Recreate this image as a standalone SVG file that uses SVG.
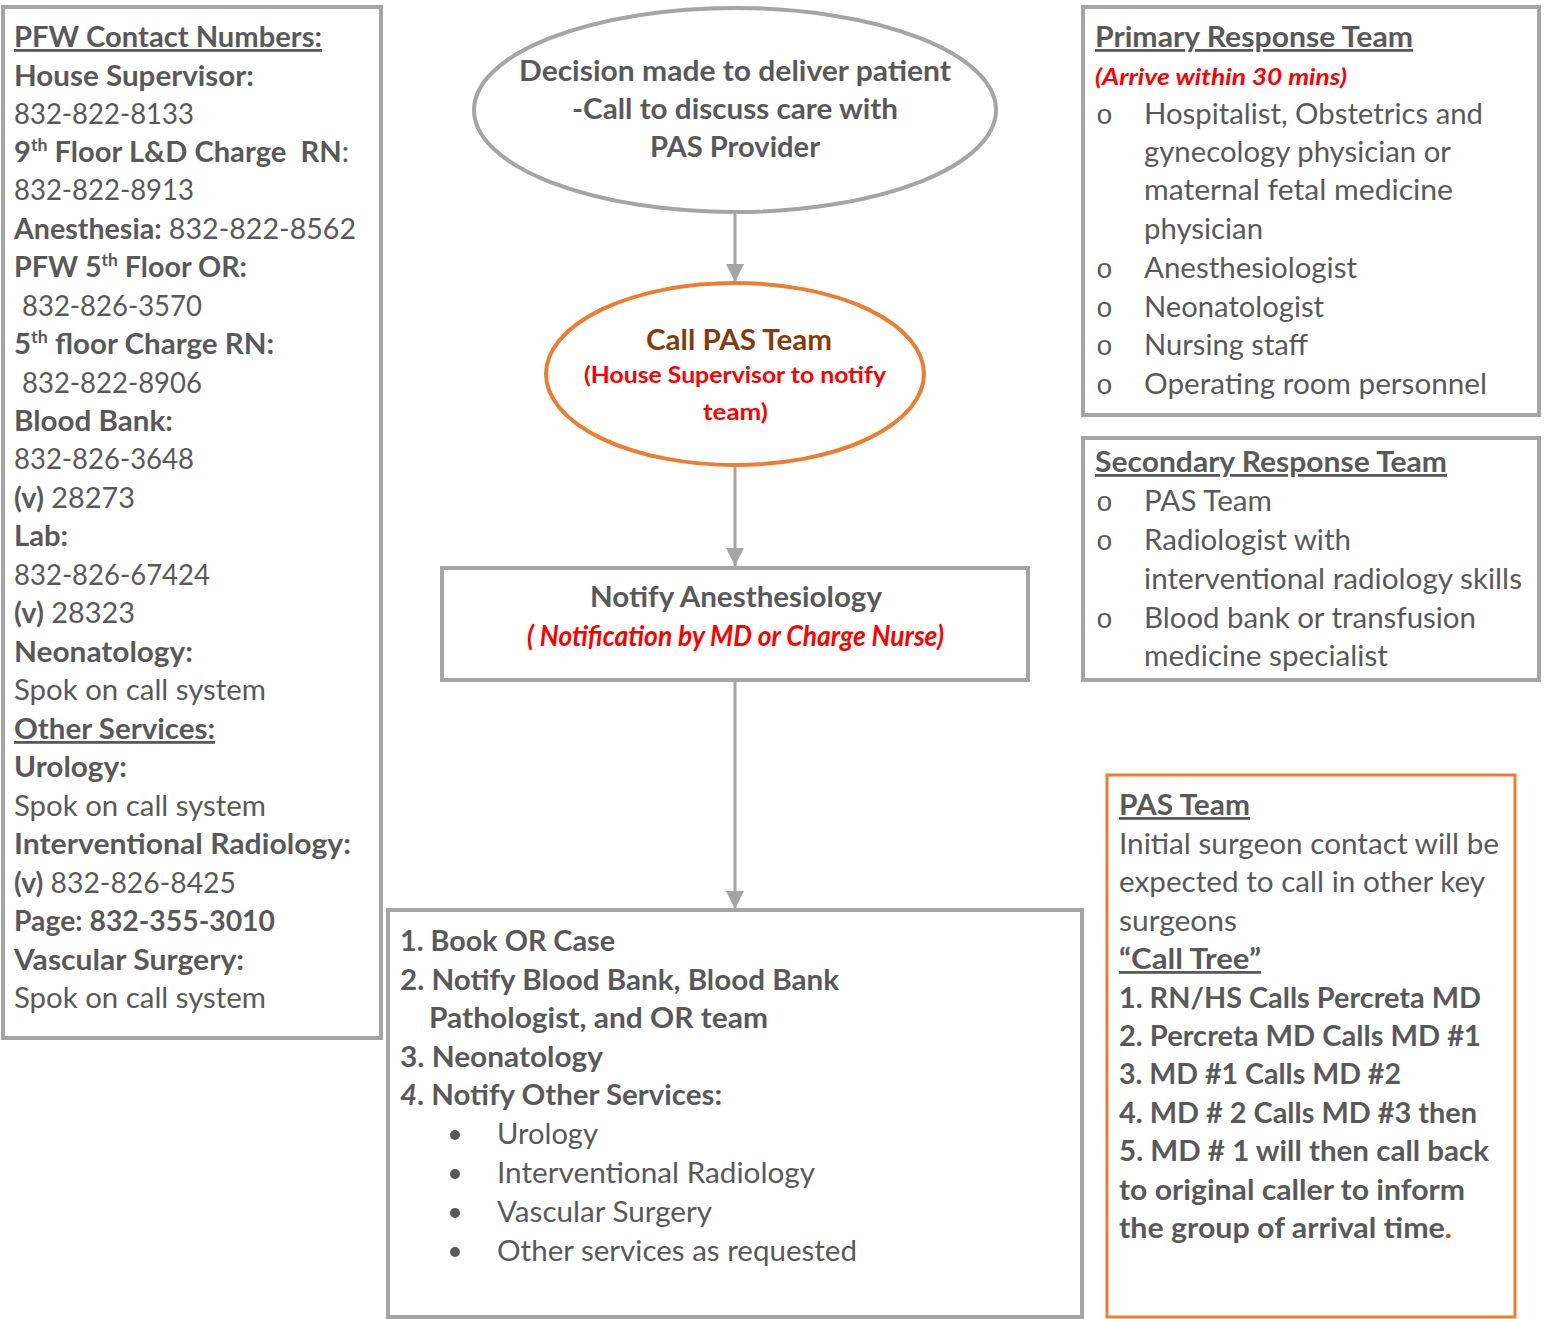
<svg xmlns="http://www.w3.org/2000/svg" width="1546" height="1319" viewBox="0 0 1546 1319">
<style>
text{font-family:Lato,"Liberation Sans",sans-serif;font-size:28px;fill:#595959}
.b{font-weight:bold}
.u{text-decoration:underline}
.red{fill:#ff0000}
.sm{font-size:23px}
.box{fill:#fff;stroke:#a5a5a5;stroke-width:4}
.obox{fill:#fff;stroke:#ed7d31;stroke-width:3}
.conn{stroke:#a5a5a5;stroke-width:3;fill:none}
.o{font-family:"Liberation Mono",monospace;font-size:28px}
.dot{fill:#595959}
</style>
<defs>
<marker id="arr" markerUnits="userSpaceOnUse" markerWidth="20" markerHeight="20" refX="18" refY="9" orient="auto">
<path d="M0,0 L18,9 L0,18 z" fill="#a5a5a5"/>
</marker>
</defs>
<rect width="1546" height="1319" fill="#fff"/>

<g id="connectors">
<line class="conn" x1="735" y1="212" x2="735" y2="282" marker-end="url(#arr)"/>
<line class="conn" x1="735" y1="466" x2="735" y2="566" marker-end="url(#arr)"/>
<line class="conn" x1="735" y1="681" x2="735" y2="909" marker-end="url(#arr)"/>
</g>

<g id="contacts">
<rect class="box" x="3" y="7" width="378" height="1031"/>
<text class="b u" x="14" y="47" textLength="308" lengthAdjust="spacingAndGlyphs">PFW Contact Numbers:</text>
<text class="b" x="14" y="86" textLength="240" lengthAdjust="spacingAndGlyphs">House Supervisor:</text>
<text x="14" y="124" textLength="180" lengthAdjust="spacingAndGlyphs">832-822-8133</text>
<text x="14" y="162" textLength="335" lengthAdjust="spacingAndGlyphs" xml:space="preserve"><tspan class="b">9</tspan><tspan class="b" font-size="17" dy="-11">th</tspan><tspan class="b" dy="11"> Floor L&amp;D Charge  RN</tspan><tspan>:</tspan></text>
<text x="14" y="200" textLength="180" lengthAdjust="spacingAndGlyphs">832-822-8913</text>
<text x="14" y="239" textLength="342" lengthAdjust="spacingAndGlyphs"><tspan class="b">Anesthesia:</tspan> 832-822-8562</text>
<text class="b" x="14" y="277" textLength="233" lengthAdjust="spacingAndGlyphs">PFW 5<tspan font-size="17" dy="-11">th</tspan><tspan dy="11"> Floor OR:</tspan></text>
<text x="22" y="316" textLength="180" lengthAdjust="spacingAndGlyphs">832-826-3570</text>
<text class="b" x="14" y="354" textLength="260" lengthAdjust="spacingAndGlyphs">5<tspan font-size="17" dy="-11">th</tspan><tspan dy="11"> floor Charge RN:</tspan></text>
<text x="22" y="393" textLength="180" lengthAdjust="spacingAndGlyphs">832-822-8906</text>
<text class="b" x="14" y="431" textLength="159" lengthAdjust="spacingAndGlyphs">Blood Bank:</text>
<text x="14" y="469" textLength="180" lengthAdjust="spacingAndGlyphs">832-826-3648</text>
<text x="14" y="508" textLength="121" lengthAdjust="spacingAndGlyphs"><tspan class="b">(v)</tspan> 28273</text>
<text class="b" x="14" y="546" textLength="54" lengthAdjust="spacingAndGlyphs">Lab:</text>
<text x="14" y="585" textLength="196" lengthAdjust="spacingAndGlyphs">832-826-67424</text>
<text x="14" y="623" textLength="121" lengthAdjust="spacingAndGlyphs"><tspan class="b">(v)</tspan> 28323</text>
<text class="b" x="14" y="662" textLength="179" lengthAdjust="spacingAndGlyphs">Neonatology:</text>
<text x="14" y="700" textLength="252" lengthAdjust="spacingAndGlyphs">Spok on call system</text>
<text class="b u" x="14" y="739" textLength="201" lengthAdjust="spacingAndGlyphs">Other Services:</text>
<text class="b" x="14" y="777" textLength="113" lengthAdjust="spacingAndGlyphs">Urology:</text>
<text x="14" y="816" textLength="252" lengthAdjust="spacingAndGlyphs">Spok on call system</text>
<text class="b" x="14" y="854" textLength="337" lengthAdjust="spacingAndGlyphs">Interventional Radiology:</text>
<text x="14" y="893" textLength="222" lengthAdjust="spacingAndGlyphs"><tspan class="b">(v)</tspan> 832-826-8425</text>
<text class="b" x="14" y="931" textLength="261" lengthAdjust="spacingAndGlyphs">Page: 832-355-3010</text>
<text class="b" x="14" y="970" textLength="230" lengthAdjust="spacingAndGlyphs">Vascular Surgery:</text>
<text x="14" y="1008" textLength="252" lengthAdjust="spacingAndGlyphs">Spok on call system</text>
</g>

<g id="decision">
<ellipse class="box" cx="735" cy="110" rx="261" ry="102"/>
<text class="b" x="519" y="81" textLength="432" lengthAdjust="spacingAndGlyphs">Decision made to deliver patient</text>
<text class="b" x="572" y="119" textLength="326" lengthAdjust="spacingAndGlyphs">-Call to discuss care with</text>
<text class="b" x="650" y="157" textLength="170" lengthAdjust="spacingAndGlyphs">PAS Provider</text>
</g>

<g id="call-pas-team">
<ellipse class="obox" cx="735" cy="374" rx="189" ry="91" style="stroke-width:4"/>
<text class="b" x="646" y="350" textLength="186" lengthAdjust="spacingAndGlyphs" style="fill:#843c0c">Call PAS Team</text>
<text class="b red sm" x="584" y="383" textLength="302" lengthAdjust="spacingAndGlyphs">(House Supervisor to notify</text>
<text class="b red sm" x="703" y="420" textLength="65" lengthAdjust="spacingAndGlyphs">team)</text>
</g>

<g id="notify-anesthesiology">
<rect class="box" x="442" y="568" width="586" height="112"/>
<text class="b" x="590" y="607" textLength="292" lengthAdjust="spacingAndGlyphs">Notify Anesthesiology</text>
<text class="b red" font-style="italic" font-size="24" x="527" y="646" textLength="417" lengthAdjust="spacingAndGlyphs">( Notification by MD or Charge Nurse)</text>
</g>

<g id="actions">
<rect class="box" x="388" y="910" width="694" height="407"/>
<text class="b" x="400" y="951" textLength="215" lengthAdjust="spacingAndGlyphs">1. Book OR Case</text>
<text class="b" x="400" y="990" textLength="439" lengthAdjust="spacingAndGlyphs">2. Notify Blood Bank, Blood Bank</text>
<text class="b" x="429" y="1028" textLength="339" lengthAdjust="spacingAndGlyphs">Pathologist, and OR team</text>
<text class="b" x="400" y="1067" textLength="203" lengthAdjust="spacingAndGlyphs">3. Neonatology</text>
<text class="b" x="400" y="1105" textLength="322" lengthAdjust="spacingAndGlyphs"><tspan font-style="italic">4</tspan>. Notify Other Services:</text>
<circle class="dot" cx="455" cy="1135" r="5"/>
<text x="497" y="1144" textLength="101" lengthAdjust="spacingAndGlyphs">Urology</text>
<circle class="dot" cx="455" cy="1174" r="5"/>
<text x="497" y="1183" textLength="318" lengthAdjust="spacingAndGlyphs">Interventional Radiology</text>
<circle class="dot" cx="455" cy="1213" r="5"/>
<text x="497" y="1222" textLength="215" lengthAdjust="spacingAndGlyphs">Vascular Surgery</text>
<circle class="dot" cx="455" cy="1252" r="5"/>
<text x="497" y="1261" textLength="360" lengthAdjust="spacingAndGlyphs">Other services as requested</text>
</g>

<g id="primary-response-team">
<rect class="box" x="1083" y="7" width="456" height="408"/>
<text class="b u" x="1095" y="47" textLength="318" lengthAdjust="spacingAndGlyphs">Primary Response Team</text>
<text class="b red sm" font-style="italic" x="1095" y="85" textLength="252" lengthAdjust="spacingAndGlyphs">(Arrive within 30 mins)</text>
<text class="o" x="1096" y="124">o</text>
<text x="1144" y="124" textLength="339" lengthAdjust="spacingAndGlyphs">Hospitalist, Obstetrics and</text>
<text x="1144" y="162" textLength="307" lengthAdjust="spacingAndGlyphs">gynecology physician or</text>
<text x="1144" y="200" textLength="309" lengthAdjust="spacingAndGlyphs">maternal fetal medicine</text>
<text x="1144" y="239" textLength="119" lengthAdjust="spacingAndGlyphs">physician</text>
<text class="o" x="1096" y="278">o</text>
<text x="1144" y="278" textLength="213" lengthAdjust="spacingAndGlyphs">Anesthesiologist</text>
<text class="o" x="1096" y="317">o</text>
<text x="1144" y="317" textLength="180" lengthAdjust="spacingAndGlyphs">Neonatologist</text>
<text class="o" x="1096" y="355">o</text>
<text x="1144" y="355" textLength="164" lengthAdjust="spacingAndGlyphs">Nursing staff</text>
<text class="o" x="1096" y="394">o</text>
<text x="1144" y="394" textLength="343" lengthAdjust="spacingAndGlyphs">Operating room personnel</text>
</g>

<g id="secondary-response-team">
<rect class="box" x="1083" y="438" width="456" height="242"/>
<text class="b u" x="1095" y="472" textLength="352" lengthAdjust="spacingAndGlyphs">Secondary Response Team</text>
<text class="o" x="1096" y="511">o</text>
<text x="1144" y="511" textLength="128" lengthAdjust="spacingAndGlyphs">PAS Team</text>
<text class="o" x="1096" y="550">o</text>
<text x="1144" y="550" textLength="207" lengthAdjust="spacingAndGlyphs">Radiologist with</text>
<text x="1144" y="589" textLength="378" lengthAdjust="spacingAndGlyphs">interventional radiology skills</text>
<text class="o" x="1096" y="628">o</text>
<text x="1144" y="628" textLength="332" lengthAdjust="spacingAndGlyphs">Blood bank or transfusion</text>
<text x="1144" y="666" textLength="244" lengthAdjust="spacingAndGlyphs">medicine specialist</text>
</g>

<g id="pas-team">
<rect class="obox" x="1107" y="775" width="408" height="542"/>
<text class="b u" x="1119" y="815" textLength="131" lengthAdjust="spacingAndGlyphs">PAS Team</text>
<text x="1119" y="854" textLength="380" lengthAdjust="spacingAndGlyphs">Initial surgeon contact will be</text>
<text x="1119" y="892" textLength="366" lengthAdjust="spacingAndGlyphs">expected to call in other key</text>
<text x="1119" y="931" textLength="118" lengthAdjust="spacingAndGlyphs">surgeons</text>
<text class="b u" x="1119" y="969" textLength="142" lengthAdjust="spacingAndGlyphs">“Call Tree”</text>
<text class="b" x="1119" y="1008" textLength="362" lengthAdjust="spacingAndGlyphs">1. RN/HS Calls Percreta MD</text>
<text class="b" x="1119" y="1046" textLength="362" lengthAdjust="spacingAndGlyphs">2. Percreta MD Calls MD #1</text>
<text class="b" x="1119" y="1084" textLength="282" lengthAdjust="spacingAndGlyphs">3. MD #1 Calls MD #2</text>
<text class="b" x="1119" y="1123" textLength="358" lengthAdjust="spacingAndGlyphs">4. MD # 2 Calls MD #3 then</text>
<text class="b" x="1119" y="1161" textLength="370" lengthAdjust="spacingAndGlyphs">5. MD # 1 will then call back</text>
<text class="b" x="1119" y="1200" textLength="346" lengthAdjust="spacingAndGlyphs">to original caller to inform</text>
<text class="b" x="1119" y="1238" textLength="333" lengthAdjust="spacingAndGlyphs">the group of arrival time<tspan style="fill:#c55a11">.</tspan></text>
</g>
</svg>
